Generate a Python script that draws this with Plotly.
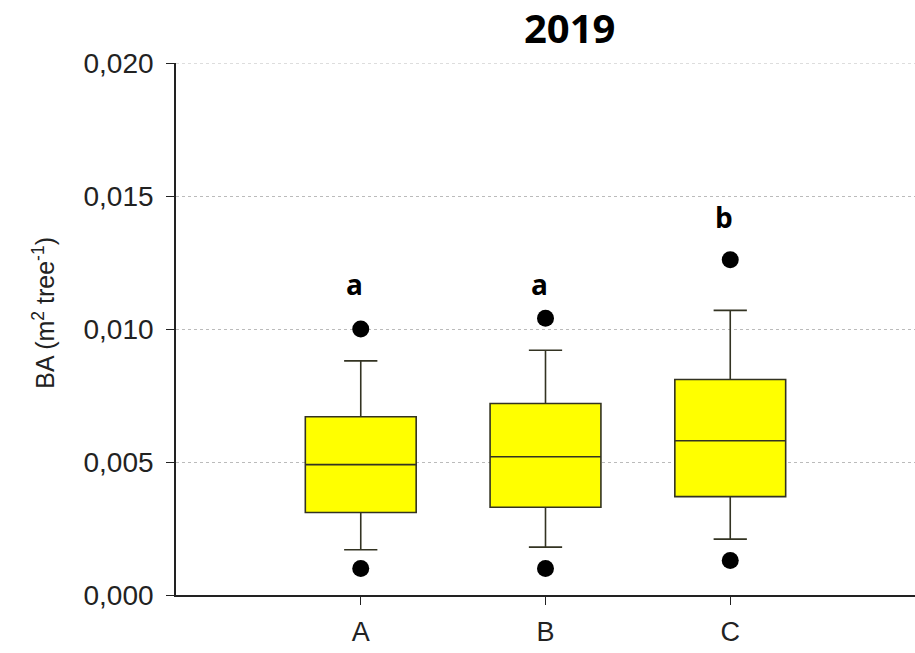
import plotly.graph_objects as go

# Basal area per tree, 2019 — box statistics per stand
categories = ["A", "B", "C"]
q1 = [0.0031, 0.0033, 0.0037]
median = [0.0049, 0.0052, 0.0058]
q3 = [0.0067, 0.0072, 0.0081]
lower_whisker = [0.0017, 0.0018, 0.0021]
upper_whisker = [0.0088, 0.0092, 0.0107]
outliers_low = [0.0010, 0.0010, 0.0013]
outliers_high = [0.0100, 0.0104, 0.0126]
sig_letters = ["a", "a", "b"]
sig_letter_y = [0.0117, 0.0117, 0.0142]
y_ticks = [0.000, 0.005, 0.010, 0.015, 0.020]

fig = go.Figure()

for i, cat in enumerate(categories):
    fig.add_trace(go.Box(
        x=[cat],
        q1=[q1[i]], median=[median[i]], q3=[q3[i]],
        lowerfence=[lower_whisker[i]], upperfence=[upper_whisker[i]],
        width=0.6, whiskerwidth=0.3,
        fillcolor="#FFFF00",
        line=dict(color="#333322", width=1.6),
        boxpoints=False, showlegend=False, hoverinfo="skip",
    ))

fig.add_trace(go.Scatter(
    x=categories * 2,
    y=outliers_low + outliers_high,
    mode="markers",
    marker=dict(color="black", size=17),
    showlegend=False, hoverinfo="skip",
))

for cat, letter, ly in zip(categories, sig_letters, sig_letter_y):
    fig.add_annotation(
        x=cat, y=ly, text=f"<b>{letter}</b>", showarrow=False, xshift=-6,
        xanchor="center", yanchor="middle",
        font=dict(family="Open Sans", size=28, color="black"),
    )

# Dotted gridline along the top of the value range
fig.add_shape(
    type="line", xref="paper", yref="y", x0=0, x1=1,
    y0=y_ticks[-1], y1=y_ticks[-1], layer="below",
    line=dict(color="#bbbbbb", width=1.2, dash="dot"),
)

fig.add_annotation(
    xref="paper", yref="paper", x=0.533, y=1.066,
    xanchor="center", yanchor="middle",
    text="<b>2019</b>", showarrow=False,
    font=dict(family="Open Sans", size=40, color="black"),
)

fig.add_annotation(
    xref="paper", yref="paper", x=-0.179, y=0.53,
    xanchor="center", yanchor="middle",
    text="BA (m<sup>2</sup> tree<sup>-1</sup>)", showarrow=False, textangle=-90,
    font=dict(family="Liberation Sans", size=25, color="#222222"),
)

fig.update_layout(
    width=915, height=653,
    margin=dict(l=176, r=0, t=63, b=58),
    plot_bgcolor="white", paper_bgcolor="white",
    separators=", ",
    xaxis=dict(
        type="category", categoryorder="array", categoryarray=categories,
        range=[-1, 3], showgrid=False, zeroline=False,
        showline=True, linecolor="#222222", linewidth=1.6,
        ticks="outside", ticklen=8, tickwidth=1.4, tickcolor="#222222",
        ticklabelstandoff=4,
        tickfont=dict(family="Liberation Sans", size=27, color="#222222"),
    ),
    yaxis=dict(
        range=[0, 0.020], tickvals=y_ticks, tickformat=".3f",
        showgrid=True, gridcolor="#bbbbbb", gridwidth=1.2, griddash="dot",
        zeroline=False,
        showline=True, linecolor="#222222", linewidth=1.6,
        ticks="outside", ticklen=8, tickwidth=1.4, tickcolor="#222222",
        ticklabelstandoff=7,
        tickfont=dict(family="Liberation Sans", size=28, color="#222222"),
    ),
)

fig.write_html("out.html")
